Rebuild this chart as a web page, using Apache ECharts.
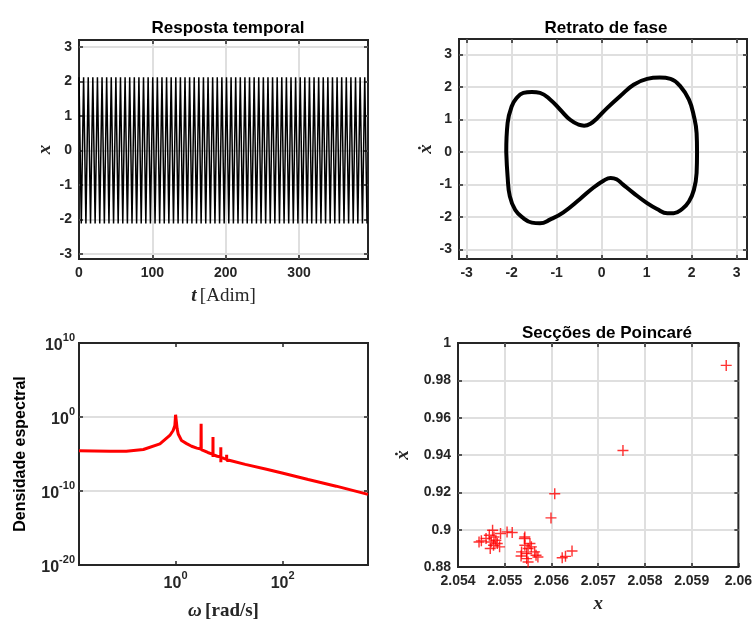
<!DOCTYPE html>
<html><head><meta charset="utf-8">
<script src="https://cdn.jsdelivr.net/npm/echarts@6/dist/echarts.min.js"></script>
<style>html,body{margin:0;padding:0;background:#fff}#c{width:755px;height:622px}</style>
</head><body><div id="c"></div><script>
// ---- Resposta temporal: extrema of x(t) ----
const tPeaks = [0, 6.28, 12.57, 18.85, 25.13, 31.42, 37.70, 43.98, 50.27, 56.55, 62.83, 69.12, 75.40, 81.68, 87.96, 94.25, 100.53, 106.81, 113.10, 119.38, 125.66, 131.95, 138.23, 144.51, 150.80, 157.08, 163.36, 169.65, 175.93, 182.21, 188.50, 194.78, 201.06, 207.35, 213.63, 219.91, 226.19, 232.48, 238.76, 245.04, 251.33, 257.61, 263.89, 270.18, 276.46, 282.74, 289.03, 295.31, 301.59, 307.88, 314.16, 320.44, 326.73, 333.01, 339.29, 345.58, 351.86, 358.14, 364.42, 370.71, 376.99, 383.27, 389.56];
const tTroughs = [3.14, 9.42, 15.71, 21.99, 28.27, 34.56, 40.84, 47.12, 53.41, 59.69, 65.97, 72.26, 78.54, 84.82, 91.11, 97.39, 103.67, 109.96, 116.24, 122.52, 128.81, 135.09, 141.37, 147.65, 153.94, 160.22, 166.50, 172.79, 179.07, 185.35, 191.64, 197.92, 204.20, 210.49, 216.77, 223.05, 229.34, 235.62, 241.90, 248.19, 254.47, 260.75, 267.04, 273.32, 279.60, 285.88, 292.17, 298.45, 304.73, 311.02, 317.30, 323.58, 329.87, 336.15, 342.43, 348.72, 355.00, 361.28, 367.57, 373.85, 380.13, 386.42, 392.70];
const xPeak = 2.12;
const xTrough = -2.12;
const timeTicks = [0, 100, 200, 300];

// ---- Retrato de fase ----
const phaseX = [-2.12, -2.09, -2.00, -1.89, -1.74, -1.55, -1.37, -1.14, -0.92, -0.70, -0.51, -0.39, -0.25, -0.10, 0.12, 0.42, 0.71, 1.01, 1.29, 1.53, 1.75, 1.94, 2.05, 2.11, 2.12, 2.11, 2.05, 1.94, 1.79, 1.60, 1.46, 1.23, 1.01, 0.71, 0.47, 0.33, 0.20, 0.05, -0.20, -0.48, -0.85, -1.14, -1.37, -1.55, -1.74, -1.92, -2.04, -2.09, -2.12];
const phaseV = [0.00, 0.89, 1.40, 1.66, 1.82, 1.85, 1.82, 1.61, 1.30, 0.99, 0.84, 0.81, 0.87, 1.04, 1.35, 1.73, 2.07, 2.25, 2.29, 2.25, 2.02, 1.61, 1.10, 0.58, 0.00, -0.65, -1.17, -1.53, -1.76, -1.89, -1.89, -1.76, -1.58, -1.27, -1.00, -0.84, -0.80, -0.88, -1.12, -1.45, -1.86, -2.08, -2.20, -2.18, -2.04, -1.79, -1.37, -0.76, 0.00];
const phaseTicks = [-3, -2, -1, 0, 1, 2, 3];

// ---- Densidade espectral ----
const omega = [0.0157, 0.03, 0.06, 0.12, 0.25, 0.51, 0.78, 0.9, 0.97, 1.0, 1.07, 1.12, 1.29, 1.61, 1.99, 2.5, 2.98, 3.0, 3.02, 4.0, 4.98, 5.0, 5.01, 5.03, 6.0, 6.98, 7.0, 7.01, 7.03, 8.0, 8.98, 9.0, 9.01, 9.03, 10, 20, 50, 102, 300, 1000, 3930];
const psd = [2.8e-5, 2.6e-5, 2.4e-5, 2.3e-5, 4.0e-5, 2.3e-4, 3.2e-3, 1.5e-2, 7.2e-2, 2.0, 2.5e-2, 5.0e-3, 6.6e-4, 2.5e-4, 1.1e-4, 6.3e-5, 4.5e-5, 0.126, 4.0e-5, 1.6e-5, 8.9e-6, 2.0e-3, 4.0e-6, 7.9e-6, 5.0e-6, 4.0e-6, 7.9e-5, 7.9e-7, 3.5e-6, 2.5e-6, 2.0e-6, 7.9e-6, 1.3e-6, 1.8e-6, 1.4e-6, 4.0e-7, 8.9e-8, 2.5e-8, 3.5e-9, 4.5e-10, 3.5e-11];
const omegaTicks = [1, 100];

// ---- Secções de Poincaré ----
const poincX = [2.05974, 2.05753, 2.05607, 2.05599, 2.05505, 2.05516, 2.05450, 2.05460, 2.05467, 2.05474, 2.05477, 2.05471, 2.05481, 2.05476, 2.05469, 2.05484, 2.05491, 2.05489, 2.05445, 2.05542, 2.05543, 2.05550, 2.05557, 2.05536, 2.05547, 2.05564, 2.05571, 2.05547, 2.05550, 2.05554, 2.05535, 2.05567, 2.05543, 2.05623, 2.05630, 2.05644];
const poincV = [0.9880, 0.9424, 0.9192, 0.9063, 0.8988, 0.8985, 0.8940, 0.8953, 0.8970, 0.8997, 0.8961, 0.8934, 0.8943, 0.8917, 0.8899, 0.8926, 0.8979, 0.8908, 0.8934, 0.8953, 0.8917, 0.8899, 0.8908, 0.8881, 0.8872, 0.8881, 0.8854, 0.8845, 0.8827, 0.8926, 0.8859, 0.8863, 0.8961, 0.8850, 0.8857, 0.8886];

// ---- build series data ----
const timeData = [];
tPeaks.forEach(t => timeData.push([t, xPeak]));
tTroughs.forEach(t => timeData.push([t, xTrough]));
timeData.sort((a, b) => a[0] - b[0]);
const phaseData = phaseX.map((x, i) => [x, phaseV[i]]);
const psdData = omega.map((w, i) => [w, psd[i]]);
const poincData = poincX.map((x, i) => [x, poincV[i]]);

const FONT = 'Liberation Sans, Arial, sans-serif';
const SERIF = 'Liberation Serif, Times New Roman, serif';
const INK = '#262626';
const GRIDC = '#dfdfdf';

const tickLbl = { fontFamily: FONT, fontWeight: 'bold', fontSize: 14, color: INK };
function baseAxis(extra) {
  return Object.assign({
    axisLine: { show: false, onZero: false },
    axisTick: { show: true, inside: true, length: 4, lineStyle: { color: INK, width: 1.5 } },
    splitLine: { show: true, showMinLine: false, showMaxLine: false, lineStyle: { color: GRIDC, width: 2 } },
    axisLabel: Object.assign({ margin: 7 }, tickLbl)
  }, extra);
}
function mirror(ax, pos) {
  const m = JSON.parse(JSON.stringify(ax));
  delete m.name;
  m.position = pos;
  m.axisLabel = { show: false };
  m.splitLine = { show: false };
  return m;
}
function supLabel(v) {
  const e = Math.log10(v);
  if (Math.abs(e - Math.round(e)) > 1e-6) return '';
  return '{b|10}{e|' + Math.round(e) + '}';
}
const supRich = {
  b: { fontFamily: FONT, fontWeight: 'bold', fontSize: 16, color: INK, verticalAlign: 'bottom', lineHeight: 22 },
  e: { fontFamily: FONT, fontWeight: 'bold', fontSize: 11, color: INK, verticalAlign: 'top', lineHeight: 11 }
};
const serifRich = {
  i: { fontFamily: SERIF, fontStyle: 'italic', fontWeight: 'bold', fontSize: 19, color: INK },
  r: { fontFamily: SERIF, fontSize: 19, color: INK },
  rb: { fontFamily: SERIF, fontWeight: 'bold', fontSize: 19, color: INK }
};

const xAxes = [], yAxes = [];
// grid 0
const x0 = baseAxis({ gridIndex: 0, type: 'value', min: 0, max: 394, interval: 100,
  name: '{i|t} {r|[Adim]}', nameLocation: 'middle', nameGap: 28, nameTextStyle: { rich: serifRich } });
x0.axisLabel.formatter = v => timeTicks.includes(v) ? String(v) : '';
const y0 = baseAxis({ gridIndex: 0, type: 'value', min: -3.15, max: 3.2, splitNumber: 6,
  name: '{i|x}', nameLocation: 'middle', nameGap: 24, nameTextStyle: { rich: serifRich } });
y0.axisLabel.formatter = v => phaseTicks.includes(v) ? String(v) : '';
// grid 1
const x1 = baseAxis({ gridIndex: 1, type: 'value', min: -3.17, max: 3.23, splitNumber: 6 });
x1.axisLabel.formatter = v => phaseTicks.includes(v) ? String(v) : '';
const y1 = baseAxis({ gridIndex: 1, type: 'value', min: -3.3, max: 3.48, splitNumber: 6,
  name: '{i|ẋ}', nameLocation: 'middle', nameGap: 20, nameTextStyle: { rich: serifRich } });
y1.axisLabel.formatter = v => phaseTicks.includes(v) ? String(v) : '';
// grid 2
const x2 = baseAxis({ gridIndex: 2, type: 'log', logBase: 10, min: 0.0157, max: 3930,
  name: '{i|ω} {rb|[rad/s]}', nameLocation: 'middle', nameGap: 37, nameTextStyle: { rich: serifRich } });
x2.axisLabel.formatter = supLabel; x2.axisLabel.rich = supRich; x2.axisLabel.margin = 5;
x2.axisLabel.customValues = omegaTicks; x2.axisTick.customValues = omegaTicks;
const y2 = baseAxis({ gridIndex: 2, type: 'log', logBase: 10, min: 1e-20, max: 1e10, interval: 10,
  name: 'Densidade espectral', nameLocation: 'middle', nameGap: 50,
  nameTextStyle: { fontFamily: FONT, fontWeight: 'bold', fontSize: 16, color: '#000' } });
y2.axisLabel.formatter = supLabel; y2.axisLabel.rich = supRich; y2.axisLabel.margin = 4;
// grid 3
const x3 = baseAxis({ gridIndex: 3, type: 'value', min: 2.054, max: 2.06, interval: 0.001,
  name: '{i|x}', nameLocation: 'middle', nameGap: 28, nameTextStyle: { rich: serifRich } });
const y3 = baseAxis({ gridIndex: 3, type: 'value', min: 0.88, max: 1, interval: 0.02,
  name: '{i|ẋ}', nameLocation: 'middle', nameGap: 45, nameTextStyle: { rich: serifRich } });

[x0, x1, x2, x3].forEach(a => { xAxes.push(a); });
[y0, y1, y2, y3].forEach(a => { yAxes.push(a); });
[x0, x1, x2, x3].forEach(a => xAxes.push(mirror(a, 'top')));
[y0, y1, y2, y3].forEach(a => yAxes.push(mirror(a, 'right')));

const titleStyle = { fontFamily: FONT, fontWeight: 'bold', fontSize: 17, color: '#000' };
const option = {
  animation: false,
  backgroundColor: '#fff',
  title: [
    { text: 'Resposta temporal', left: 223, top: 15, textAlign: 'center', textStyle: titleStyle },
    { text: 'Retrato de fase', left: 601, top: 15, textAlign: 'center', textStyle: titleStyle },
    { text: 'Secções de Poincaré', left: 602, top: 320, textAlign: 'center', textStyle: titleStyle }
  ],
  grid: [
    { left: 79, top: 40, width: 289, height: 219, show: true, borderColor: INK, borderWidth: 2, backgroundColor: '#fff' },
    { left: 459, top: 39, width: 288, height: 220, show: true, borderColor: INK, borderWidth: 2, backgroundColor: '#fff' },
    { left: 79, top: 343, width: 289, height: 224, show: true, borderColor: INK, borderWidth: 2, backgroundColor: '#fff' },
    { left: 458, top: 343, width: 289, height: 224, show: true, borderColor: INK, borderWidth: 2, backgroundColor: '#fff' }
  ],
  xAxis: xAxes,
  yAxis: yAxes,
  series: [
    { type: 'line', xAxisIndex: 0, yAxisIndex: 0, data: timeData, showSymbol: false, lineStyle: { color: '#000', width: 1.5 } },
    { type: 'line', xAxisIndex: 1, yAxisIndex: 1, data: phaseData, showSymbol: false, smooth: 0.45, lineStyle: { color: '#000', width: 4 } },
    { type: 'line', xAxisIndex: 2, yAxisIndex: 2, data: psdData, showSymbol: false, lineStyle: { color: '#ff0000', width: 3 } },
    { type: 'scatter', xAxisIndex: 3, yAxisIndex: 3, data: poincData, symbolSize: 11,
      symbol: 'path://M-1,-0.13H1V0.13H-1Z M-0.13,-1H0.13V1H-0.13Z', itemStyle: { color: '#ff0000' } }
  ]
};
const chart = echarts.init(document.getElementById('c'), null, { renderer: 'canvas' });
chart.setOption(option);
</script></body></html>
